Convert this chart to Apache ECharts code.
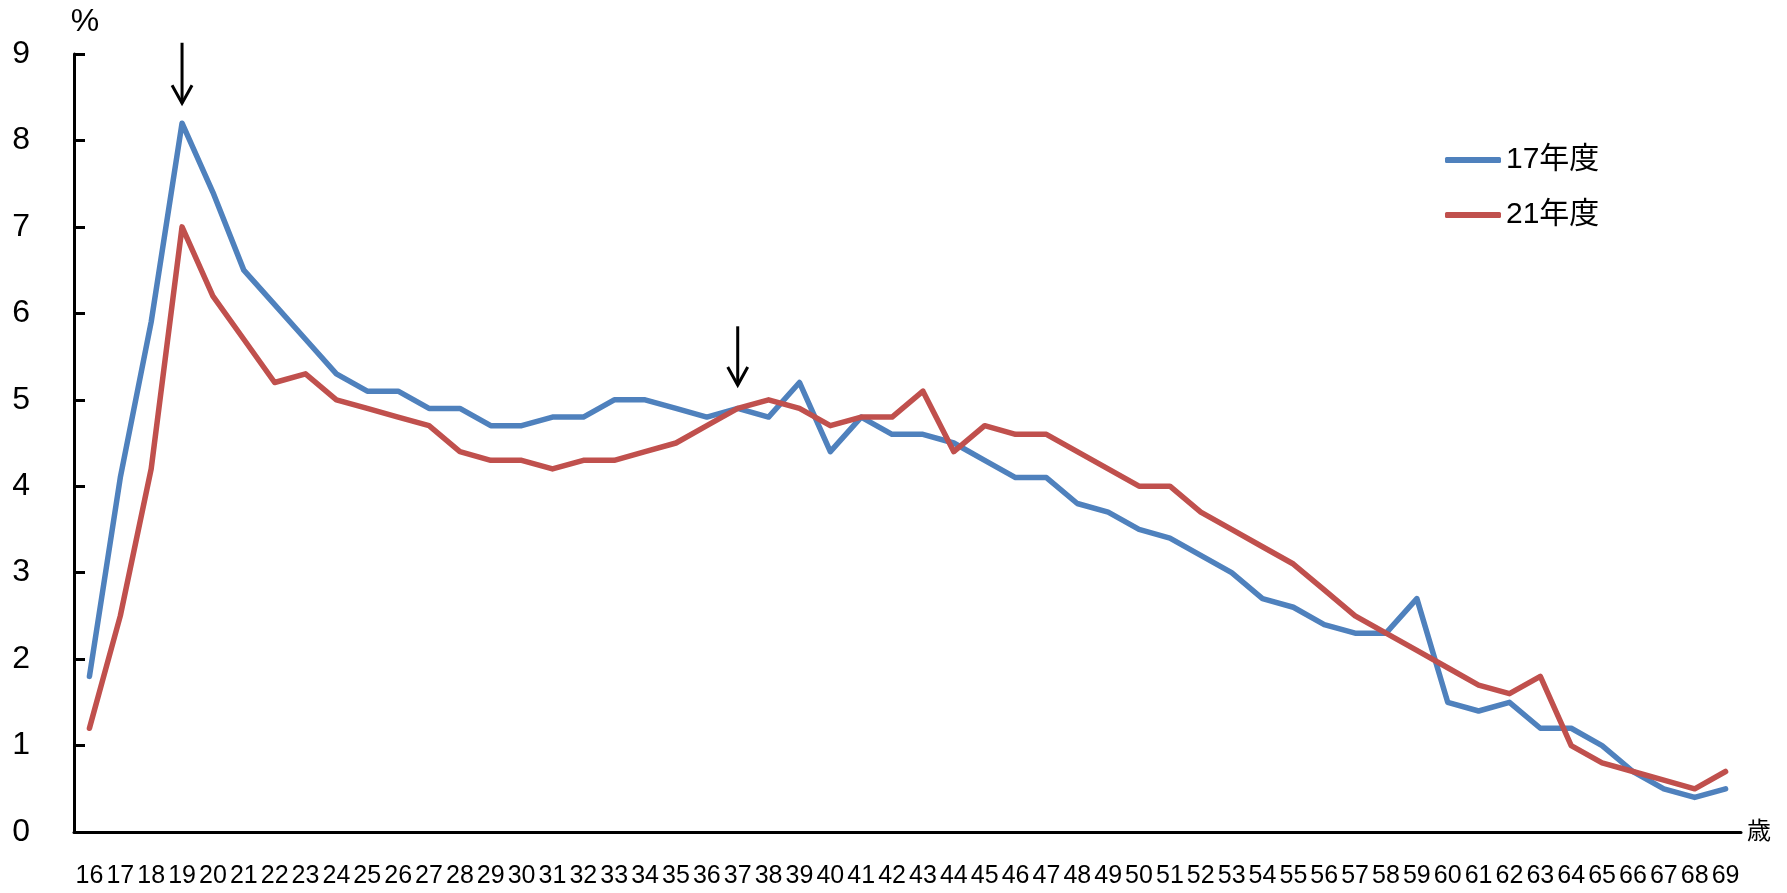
<!DOCTYPE html>
<html>
<head>
<meta charset="utf-8">
<script src="https://cdn.jsdelivr.net/npm/echarts@6/dist/echarts.min.js"></script>
<style>
  html, body { margin: 0; padding: 0; background: #fff; }
  #chart { width: 1787px; height: 893px; }
</style>
</head>
<body>
<div id="chart"></div>
<script>
// ages 16..69
const ages = [];
for (let a = 16; a <= 69; a++) ages.push(String(a));

const seriesNames = ["17年度", "21年度"];

const fy17 = [1.8, 4.1, 5.9, 8.2, 7.4, 6.5, 6.1, 5.7, 5.3, 5.1,
  5.1, 4.9, 4.9, 4.7, 4.7, 4.8, 4.8, 5.0, 5.0, 4.9,
  4.8, 4.9, 4.8, 5.2, 4.4, 4.8, 4.6, 4.6, 4.5, 4.3,
  4.1, 4.1, 3.8, 3.7, 3.5, 3.4, 3.2, 3.0, 2.7, 2.6,
  2.4, 2.3, 2.3, 2.7, 1.5, 1.4, 1.5, 1.2, 1.2, 1.0,
  0.7, 0.5, 0.4, 0.5];

const fy21 = [1.2, 2.5, 4.2, 7.0, 6.2, 5.7, 5.2, 5.3, 5.0, 4.9,
  4.8, 4.7, 4.4, 4.3, 4.3, 4.2, 4.3, 4.3, 4.4, 4.5,
  4.7, 4.9, 5.0, 4.9, 4.7, 4.8, 4.8, 5.1, 4.4, 4.7,
  4.6, 4.6, 4.4, 4.2, 4.0, 4.0, 3.7, 3.5, 3.3, 3.1,
  2.8, 2.5, 2.3, 2.1, 1.9, 1.7, 1.6, 1.8, 1.0, 0.8,
  0.7, 0.6, 0.5, 0.7];

// arrow annotations (age, top value, tip value)
const arrowAges = ["19", "37"];
const arrowTop = [9.13, 5.85];
const arrowTip = [8.43, 5.17];

const font = "'Liberation Sans', 'Noto Sans CJK JP', sans-serif";

const chart = echarts.init(document.getElementById("chart"));

const option = {
  animation: false,
  textStyle: { fontFamily: font, color: "#000" },
  grid: { left: 74, right: 46, top: 54, bottom: 61 },
  legend: {
    data: seriesNames.map((n) => ({ name: n, icon: "roundRect" })),
    orient: "vertical",
    left: 1440,
    top: 140,
    itemWidth: 56,
    itemHeight: 6,
    itemGap: 25,
    textStyle: { fontSize: 30, lineHeight: 30, fontFamily: font, color: "#000" },
  },
  xAxis: {
    type: "category",
    data: ages,
    boundaryGap: true,
    name: "歳",
    nameLocation: "end",
    nameGap: 6,
    nameTextStyle: { fontSize: 24, fontFamily: font, color: "#000", padding: [50, 0, 0, 0] },
    axisLine: { lineStyle: { color: "#000", width: 3 } },
    axisTick: { inside: true, length: 8, lineStyle: { color: "#000", width: 3 } },
    axisLabel: { interval: 0, fontSize: 25, margin: 32, color: "#000", fontFamily: font },
    splitLine: { show: false },
  },
  yAxis: {
    type: "value",
    min: 0,
    max: 9,
    interval: 1,
    name: "%",
    nameLocation: "end",
    nameGap: 16,
    nameTextStyle: { fontSize: 32, fontFamily: font, color: "#000", padding: [0, 0, 0, 22] },
    axisLine: { show: true, lineStyle: { color: "#000", width: 3 } },
    axisTick: { show: true, inside: true, length: 11, lineStyle: { color: "#000", width: 3 } },
    axisLabel: { fontSize: 32, margin: 44, color: "#000", fontFamily: font },
    splitLine: { show: false },
  },
  series: [
    {
      name: seriesNames[0],
      type: "line",
      data: fy17,
      showSymbol: false,
      symbol: "none",
      lineStyle: { color: "#4F81BD", width: 5.5, cap: "round", join: "round" },
      itemStyle: { color: "#4F81BD" },
      clip: false,
    },
    {
      name: seriesNames[1],
      type: "line",
      data: fy21,
      showSymbol: false,
      symbol: "none",
      lineStyle: { color: "#C0504D", width: 5.5, cap: "round", join: "round" },
      itemStyle: { color: "#C0504D" },
      clip: false,
    },
  ],
};

chart.setOption(option);

// arrows placed through the chart's own scales
const arrows = arrowAges.map((age, i) => {
  const top = chart.convertToPixel({ gridIndex: 0 }, [age, arrowTop[i]]);
  const tip = chart.convertToPixel({ gridIndex: 0 }, [age, arrowTip[i]]);
  return {
    type: "group",
    children: [
      {
        type: "line",
        shape: { x1: top[0], y1: top[1], x2: tip[0], y2: tip[1] },
        style: { stroke: "#000", lineWidth: 3 },
      },
      {
        type: "polyline",
        shape: { points: [[tip[0] - 10, tip[1] - 18], [tip[0], tip[1]], [tip[0] + 10, tip[1] - 18]] },
        style: { stroke: "#000", lineWidth: 3, fill: null },
      },
    ],
  };
});

chart.setOption({ graphic: arrows });
</script>
</body>
</html>
